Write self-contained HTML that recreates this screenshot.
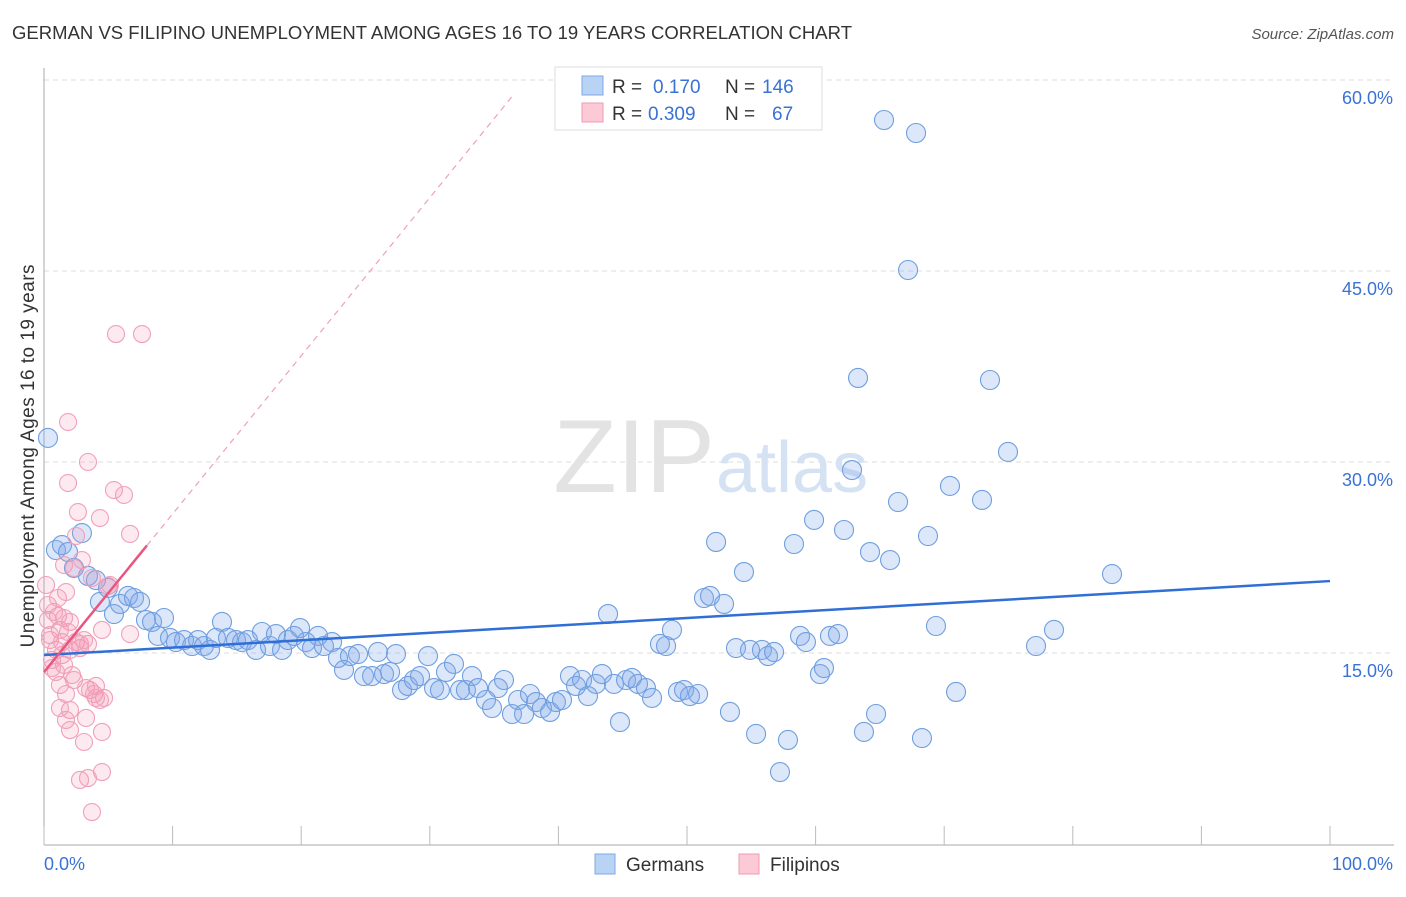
<!DOCTYPE html>
<html><head><meta charset="utf-8"><style>
body{margin:0;background:#fff;font-family:"Liberation Sans",sans-serif;}
svg text{font-family:"Liberation Sans",sans-serif;}
</style></head><body>
<svg id="c" width="1406" height="892">
<text x="12" y="39" font-size="18.5" fill="#333" textLength="840">GERMAN VS FILIPINO UNEMPLOYMENT AMONG AGES 16 TO 19 YEARS CORRELATION CHART</text>
<text x="1394" y="39" font-size="15" fill="#555" font-style="italic" text-anchor="end">Source: ZipAtlas.com</text>
<text x="34" y="456" font-size="19" fill="#333" text-anchor="middle" transform="rotate(-90 34 456)" textLength="383">Unemployment Among Ages 16 to 19 years</text>
<g id="grid"></g>
<text x="715" y="492" font-size="104" fill="#e3e3e3" font-family="Liberation Serif" text-anchor="end">ZIP</text>
<text x="716" y="492" font-size="72" fill="#d5e2f3">atlas</text>
<g id="axes"></g>
<g id="pts"></g>
<g id="trend"></g>
<g>
<rect x="555" y="67" width="267" height="63" fill="#fff" stroke="#ddd"/>
<rect x="582" y="76" width="21" height="19" fill="#b9d3f5" stroke="#7ea8e6"/>
<rect x="582" y="103" width="21" height="19" fill="#fcc9d7" stroke="#f09ab3"/>
<text x="612" y="93" font-size="19" fill="#333">R =</text>
<text x="653" y="93" font-size="19" fill="#3a72d4">0.170</text>
<text x="725" y="93" font-size="19" fill="#333">N =</text>
<text x="762" y="93" font-size="19" fill="#3a72d4">146</text>
<text x="612" y="120" font-size="19" fill="#333">R =</text>
<text x="648" y="120" font-size="19" fill="#3a72d4">0.309</text>
<text x="725" y="120" font-size="19" fill="#333">N =</text>
<text x="772" y="120" font-size="19" fill="#3a72d4">67</text>
</g>
<g>
<rect x="595" y="854" width="20" height="20" fill="#b9d3f5" stroke="#7ea8e6"/>
<text x="626" y="871" font-size="19" fill="#333">Germans</text>
<rect x="739" y="854" width="20" height="20" fill="#fcc9d7" stroke="#f09ab3"/>
<text x="770" y="871" font-size="19" fill="#333">Filipinos</text>
</g>
</svg>
<script>
const yTicks=[15,30,45,60];
const yTickLabels=["15.0%","30.0%","45.0%","60.0%"];
const xTickLabels=["0.0%","100.0%"];
const germansPx=[[48,438],[56,550],[62,545],[68,552],[82,533],[74,568],[88,576],[96,580],[100,602],[108,588],[114,614],[120,604],[128,596],[134,598],[140,602],[146,620],[152,622],[158,636],[164,618],[170,638],[176,642],[184,640],[192,646],[198,640],[204,646],[210,650],[216,638],[222,622],[228,638],[236,640],[242,642],[248,640],[256,650],[262,632],[270,646],[276,634],[282,650],[288,640],[294,636],[300,628],[306,642],[312,648],[318,636],[324,646],[332,642],[338,658],[344,670],[350,656],[358,654],[364,676],[372,676],[378,652],[384,674],[390,672],[396,654],[402,690],[408,686],[414,680],[420,676],[428,656],[434,688],[440,690],[446,672],[454,664],[460,690],[466,690],[472,676],[478,688],[486,700],[492,708],[498,688],[504,680],[512,714],[518,700],[524,714],[530,694],[536,702],[542,708],[550,712],[556,702],[562,700],[570,676],[576,686],[582,680],[588,696],[596,684],[602,674],[608,614],[614,684],[620,722],[626,680],[632,678],[638,684],[646,688],[652,698],[660,644],[666,646],[672,630],[678,692],[684,690],[690,696],[698,694],[704,598],[710,596],[716,542],[724,604],[730,712],[736,648],[744,572],[750,650],[756,734],[762,650],[768,656],[774,652],[780,772],[788,740],[794,544],[800,636],[806,642],[814,520],[820,674],[824,668],[830,636],[838,634],[844,530],[852,470],[858,378],[864,732],[870,552],[876,714],[884,120],[890,560],[898,502],[908,270],[916,133],[922,738],[928,536],[936,626],[950,486],[956,692],[982,500],[990,380],[1008,452],[1054,630],[1036,646],[1112,574]];
const filipinosPx=[[46,585],[48,620],[50,640],[52,660],[56,650],[60,630],[62,655],[64,665],[56,672],[50,635],[58,616],[64,618],[68,632],[70,650],[74,680],[60,685],[66,694],[70,710],[66,720],[70,730],[60,708],[76,642],[80,648],[86,688],[90,690],[94,694],[96,686],[100,700],[104,698],[86,718],[84,742],[102,732],[80,780],[88,778],[102,772],[92,812],[68,422],[88,462],[68,483],[78,512],[100,518],[114,490],[124,495],[130,534],[76,536],[66,592],[92,578],[64,565],[82,560],[74,568],[130,634],[102,630],[110,585],[116,334],[142,334],[70,622],[54,612],[48,605],[72,675],[96,698],[80,644],[58,598],[62,642],[52,668],[88,644],[108,586],[84,640]];
const germanX=germansPx.map(p=>+((p[0]-44)/12.86).toFixed(2));
const germanY=germansPx.map(p=>+((844-p[1])/12.733).toFixed(2));
const filipinoX=filipinosPx.map(p=>+((p[0]-44)/12.86).toFixed(2));
const filipinoY=filipinosPx.map(p=>+((844-p[1])/12.733).toFixed(2));
const germanTrend=[14.84,20.65];
const filipinoTrend=[13.5,1.242];
const X=v=>44+v*12.86, Y=v=>844-v*12.733;
const NS="http://www.w3.org/2000/svg";
function mk(tag,at,parent){const e=document.createElementNS(NS,tag);for(const k in at)e.setAttribute(k,at[k]);parent.appendChild(e);return e;}
const grid=document.getElementById('grid'),axes=document.getElementById('axes'),pts=document.getElementById('pts'),tr=document.getElementById('trend');
yTicks.forEach((t,i)=>{
 const l=mk('line',{x1:44,x2:1394,y1:Y(t),y2:Y(t),stroke:'#ddd','stroke-dasharray':'5,4'},grid);
 
 
 const tx=mk('text',{x:1393,y:Y(t)+24,'font-size':18,fill:'#3a72d4','text-anchor':'end'},axes);
 tx.textContent=yTickLabels[i];
 
 
});
mk('line',{x1:44,x2:44,y1:68,y2:845,stroke:'#aaa'},axes);
mk('line',{x1:44,x2:1394,y1:845,y2:845,stroke:'#aaa'},axes);
for(let i=0;i<=10;i++){mk('line',{x1:X(i*10),x2:X(i*10),y1:826,y2:845,stroke:'#bbb'},axes);}
[[0,44,'start'],[1,1393,'end']].forEach(([i,x,a])=>{const t=mk('text',{x:x,y:870,'font-size':18,fill:'#3a72d4','text-anchor':a},axes);t.textContent=xTickLabels[i];
 
 });
germanX.forEach((x,i)=>{const c=mk('circle',{cx:X(x),cy:Y(germanY[i]),r:9.5,fill:'rgba(130,170,235,0.28)',stroke:'#6f9fe0','stroke-width':1.1},pts);
 
 });
filipinoX.forEach((x,i)=>{const c=mk('circle',{cx:X(x),cy:Y(filipinoY[i]),r:8.5,fill:'rgba(245,150,180,0.2)',stroke:'#f0a0b8','stroke-width':1.1},pts);
 
 });
const gl=mk('line',{x1:X(0),y1:Y(germanTrend[0]),x2:X(100),y2:Y(germanTrend[1]),stroke:'#2f6fd6','stroke-width':2.5},tr);


const fy=x=>filipinoTrend[0]+filipinoTrend[1]*x;
const fd=mk('line',{x1:X(8),y1:Y(fy(8)),x2:X(36.6),y2:Y(fy(36.6)),stroke:'#f0a0b8','stroke-width':1.2,'stroke-dasharray':'6,5'},tr);


const fl=mk('line',{x1:X(0),y1:Y(fy(0)),x2:X(8),y2:Y(fy(8)),stroke:'#e8557f','stroke-width':2.5},tr);


</script>
</body></html>
